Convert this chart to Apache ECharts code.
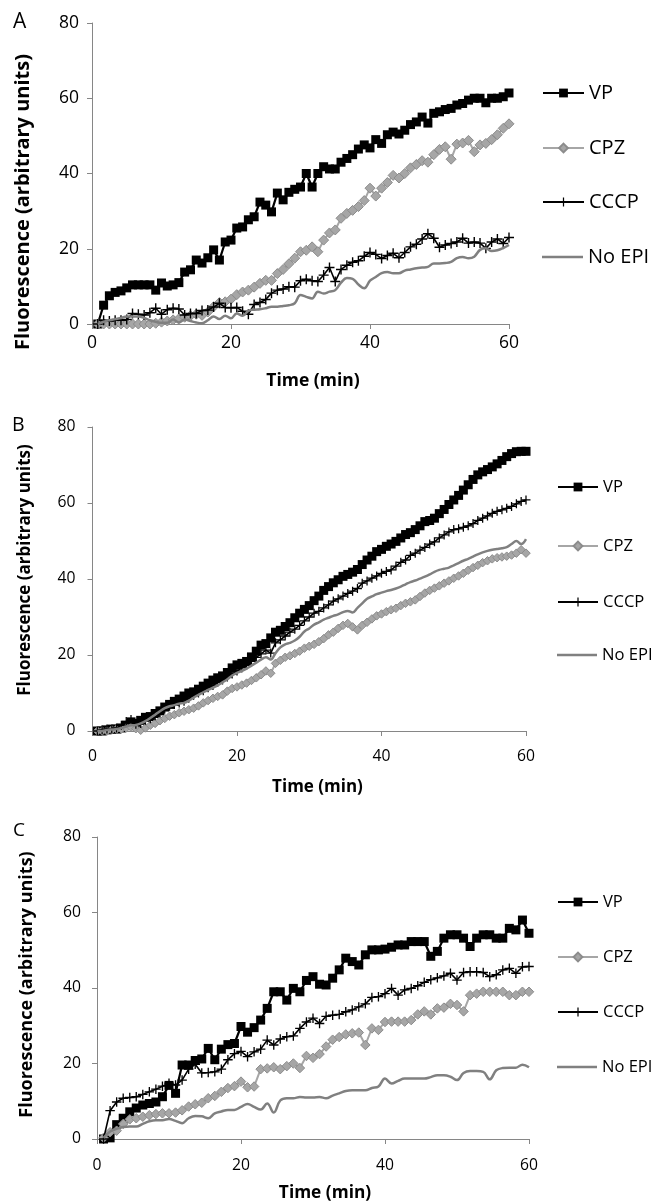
<!DOCTYPE html>
<html><head><meta charset="utf-8">
<script src="https://cdn.jsdelivr.net/npm/echarts@6/dist/echarts.min.js"></script>
<style>html,body{margin:0;padding:0;background:#fff}#c{width:655px;height:1203px}</style>
</head><body><div id="c"></div>
<script>
const seriesNames = ['VP', 'CPZ', 'CCCP', 'No EPI'];
const panelLetters = ['A', 'B', 'C'];
const yTitle = 'Fluorescence (arbitrary units)';
const xTitle = 'Time (min)';
const xRange = [0, 60, 20];
const yRange = [0, 80, 20];

// ---------- Panel A ----------
const timeA = [0.83,1.67,2.5,3.33,4.17,5,5.83,6.67,7.5,8.33,9.17,10,
10.83,11.67,12.5,13.33,14.17,15,15.83,16.67,17.5,18.33,19.17,20,
20.83,21.67,22.5,23.33,24.17,25,25.83,26.67,27.5,28.33,29.17,30,
30.83,31.67,32.5,33.33,34.17,35,35.83,36.67,37.5,38.33,39.17,40,
40.83,41.67,42.5,43.33,44.17,45,45.83,46.67,47.5,48.33,49.17,50,
50.83,51.67,52.5,53.33,54.17,55,55.83,56.67,57.5,58.33,59.17,60];
const vpA = [0,5,7.5,8.4,8.8,9.6,10.4,10.4,10.4,10.4,9,10.9,
10.1,10.4,11,13.8,14.4,17,16.2,17.6,19.7,17,21.8,22.3,
25.5,25.8,27.7,28.5,32.4,31.6,29.8,34.8,33,35,35.8,36.4,
40,36.4,40,41.8,41.2,41.2,43,44,45,46.5,47.6,46.8,
49,48,50.3,51,50.5,51.5,53,53.7,55,53.4,56,56.4,
57,57.3,58.2,58.6,59.5,60,60,58.8,60,60,60.4,61.4];
const cpzA = [0,0,0,0,0,0,0,0,0,0,0.2,0.5,
0.8,1.1,1.4,1.8,2.2,2.6,2.3,3.2,4.6,5.7,5.9,6.6,
7.8,8.5,9,9.8,10.8,11.6,11.6,13.4,14.5,16,17.5,19.2,
19.6,20.5,19.2,22.3,24.2,25,28.1,29.4,30.2,31.2,32.8,36.1,
34,36.1,37.6,39.5,38.8,40,41.5,42.4,43.4,43,45,46.4,
47.1,43.8,47.8,48.1,48.8,45.8,47.6,48,49,50.3,52,53.2];
const cccpA = [0,1,0.8,1,1,1.2,2.8,2.6,2.4,3,4.2,2.6,
3.8,4.2,4,2.4,2.8,2.8,3.6,3.7,4.5,5.5,4.4,4.3,
4.4,3.4,2.6,5.2,5.7,6.5,8.2,9,9.3,9.9,9.8,11.5,
11.9,11.5,11.3,13,15,11.3,14.5,15.6,16.4,16.8,18,19,
18.5,17.4,18.2,18.8,17.6,19,20.5,21.2,22.6,24,22.8,20.4,
21,21.4,21.8,22.8,21.5,21.8,21.5,20.1,21.8,22.6,21.4,23];
const noEpiA = [0,0.6,1,1.3,1.6,2,2,2,1.6,1,0.6,0.3,
0.3,1.2,0.4,1.2,0.8,0.4,0.2,1,2,1.3,2.2,1.5,
2.8,2.2,3.5,3.8,3.9,4.2,4.6,4.6,4.8,5,5.5,7.7,
7.2,6.8,8.6,8.1,8.6,9,11,12.2,12,10.5,9.5,11.5,
12.5,13.5,13.8,13.5,13.5,14.2,14.5,14.8,15,15.2,16.1,16.1,
16.2,16.5,17.5,17.8,17.5,17.9,19.7,20.1,19.4,19.6,20.2,21];

// ---------- Panel B ----------
const timeB = [0.67,1.33,2,2.67,3.33,4,4.67,5.33,6,6.67,7.33,8,8.67,9.33,10,
10.67,11.33,12,12.67,13.33,14,14.67,15.33,16,16.67,17.33,18,18.67,19.33,20,
20.67,21.33,22,22.67,23.33,24,24.67,25.33,26,26.67,27.33,28,28.67,29.33,30,
30.67,31.33,32,32.67,33.33,34,34.67,35.33,36,36.67,37.33,38,38.67,39.33,40,
40.67,41.33,42,42.67,43.33,44,44.67,45.33,46,46.67,47.33,48,48.67,49.33,50,
50.67,51.33,52,52.67,53.33,54,54.67,55.33,56,56.67,57.33,58,58.67,59.33,60];
const vpB = [0,0,0.3,0.5,0.5,0.8,1.5,2.4,2,2.8,3.6,3.8,
4.6,5.3,6.3,7,7.8,8.4,9.2,10,10.3,11,11.8,12.6,
13.4,14,14.5,15.4,16.6,17.4,17.8,18.3,19.5,21,22.6,23,
24.5,26,26.5,27.5,28.5,29.8,31,32,33,34.3,35.5,37,
38,39,39.8,40.7,41.2,41.8,42.5,43.8,45,46,47.2,47.8,
48.6,49.2,49.9,50.8,51.7,52.2,53,54,55.1,55.4,56,57.2,
58.3,59.6,60.8,62,63.4,64.8,66.2,67.4,68.2,68.8,69.5,70.3,
71.2,72.2,73,73.5,73.6,73.6];
const cpzB = [0,0,0,0.3,0.5,0.5,0.8,1,0.6,0.2,0.8,1.5,
2,2.7,3.3,3.9,4.3,4.8,5.2,5.6,6,6.6,7.4,8,
8.6,9.1,9.5,10.5,11.2,11.6,12.1,12.6,13.3,14,14.8,15.8,
15.2,17.8,18.6,19.4,19.8,20.4,21,21.8,22.3,22.8,23.5,24.3,
25.3,26,27,27.8,28.3,27.4,26.6,27.8,28.6,29.5,30.3,30.8,
31.4,31.9,32.3,33,33.6,34,34.5,35.4,36.3,37,37.6,38.2,
38.9,39.5,40.2,40.8,41.5,42.3,43,43.6,44.3,44.8,45.3,45.6,
45.8,46,46.3,46.8,47.7,46.8];
const cccpB = [0,0.3,0.5,0.5,0.8,1.5,2.5,3,1.8,2,2.8,3.2,
4,4.8,5.8,6.5,7,7.4,7.8,8.6,9.4,10,10.6,11.4,
12,12.8,13.4,14.2,15,15.8,16.6,17.4,18.3,19.4,20.3,21.3,
20.5,23.2,24,25,26,26.8,27.8,29,30,31,31.5,32.4,
33.2,34.2,34.8,35.5,36.2,36.8,37.5,38.9,39.5,40.2,40.8,41.5,
42,42.4,43.4,44.4,45,46.2,46.8,47.6,48.3,49.2,49.8,50.8,
51.6,52.4,53,53.2,53.6,54,54.6,55.4,56,56.6,57.3,57.8,
58.2,58.6,59.1,59.8,60.4,60.8];
const noEpiB = [0,0,0.3,0.4,0.5,0.8,1.2,1.5,1.6,2,2.6,3.4,
4.3,5.2,6,6.5,6.8,7.2,7.4,8,8.8,9.5,10.2,10.8,
11.4,12,12.8,13.6,14.6,15.3,15.8,16.4,17.2,18,18.8,19.4,
18.8,20.5,22,22.8,23.2,23.8,24.8,26.2,27,28,28.6,29.3,
29.8,30.3,30.7,31.3,31.6,31.2,32.4,33.6,34.8,35.4,36,36.4,
36.8,37.1,37.5,38,38.6,39.2,39.6,40.1,40.6,41.2,41.9,42.4,
42.7,43,43.6,44.2,44.8,45.3,45.9,46.5,47,47.4,47.7,47.9,
48.1,48.4,49.2,50,49.2,50.5];

// ---------- Panel C ----------
const timeC = [0.91,1.82,2.73,3.64,4.55,5.45,6.36,7.27,8.18,9.09,10,
10.91,11.82,12.73,13.64,14.55,15.45,16.36,17.27,18.18,19.09,20,
20.91,21.82,22.73,23.64,24.55,25.45,26.36,27.27,28.18,29.09,30,
30.91,31.82,32.73,33.64,34.55,35.45,36.36,37.27,38.18,39.09,40,
40.91,41.82,42.73,43.64,44.55,45.45,46.36,47.27,48.18,49.09,50,
50.91,51.82,52.73,53.64,54.55,55.45,56.36,57.27,58.18,59.09,60];
const vpC = [0,0.3,3.8,5.5,7.2,8.2,9,9.4,9.8,11.2,14.2,
12.1,19.6,19.6,20.8,21.2,24,21,23.8,25,25.3,29.8,
28.3,29.5,31.5,34.6,39,39,36.8,39.9,39,42,43,
41,40.8,42.6,44.8,47.9,47,46.1,48.8,50.1,50.1,50.3,
50.8,51.4,51.4,52.3,52.3,52.3,48.4,49.7,53.2,54.1,54.1,
53.2,51,53.2,54.1,54.1,53.2,53.2,55.8,55.4,58,54.5];
const cpzC = [0.3,1.8,2.2,4,5.2,5.5,5.9,6.3,6.6,6.8,6.8,
7,7.6,8.6,9.2,9.6,10.8,11.4,12.5,13.5,14,15.2,
13.7,13.9,18.5,18.7,19,18.5,19.3,20,18.8,22,21.5,
22.5,24.5,26.3,27,27.7,28,28.2,24.9,29.3,28.9,31,
31.1,31.1,31.1,31.5,33,33.8,33,34.6,34.8,35.8,35.5,
33.8,38.1,38.5,39,39,39,39,38.1,38.1,39,39];
const cccpC = [0,7.5,9.8,10.8,11,11.2,11.8,12.5,13.2,14,14.8,
14.3,15.6,18.5,19.8,17.5,17.6,17.8,18.5,21,22.6,23.2,
21.8,23.1,23.8,26.2,24.9,26.5,27.1,27.3,29.3,31,32,
30.6,32.5,32.8,33,33.7,34.2,35,35.8,37.5,37.7,38.5,
39.9,38.1,39.5,39.9,40.6,41.5,42.2,42.7,43.2,43.9,42.1,
44.1,44.3,44.3,44.1,43,43.5,44.8,45.2,43.9,45.6,45.7];
const noEpiC = [0.3,2,2.7,3.2,3.3,3.3,4,4.7,5,5,5.3,
4.8,4.2,5.5,6.1,6,5.5,6.8,7.3,7.7,7.7,8.5,
9.3,8.5,7.8,9.4,7,10.2,10.8,10.8,11.1,11,11,
11.1,10.8,11.5,12.1,12.7,12.9,12.9,12.9,13.5,13.9,16,
14.7,15.4,16,16,16,16,16.4,16.9,16.9,16.5,15.6,
17.5,18,18,17.8,15.8,18.2,18.8,18.9,18.9,19.7,19];

// ---------- layout & style ----------
const FONT = '"Open Sans", sans-serif';
const PLUS = 'path://M4.3,0H5.7V4.3H10V5.7H5.7V10H4.3V5.7H0V4.3H4.3Z';
const AXIS_COLOR = '#868686';

const panels = [
  { times: timeA, vals: [vpA, cpzA, cccpA, noEpiA],
    grid: { left: 92, top: 23, width: 417, height: 301 },
    tickFont: 17.5, yMargin: 13, xMargin: 10, sym: [9, 10, 10],
    legend: { left: 542, ys: [93, 148, 202, 257], w: 41, h: 11, font: 20 },
    letter: { x: 13, y: 22, size: 21 },
    yt: { x: 23, y: 202, size: 20 }, xt: { x: 313, y: 381, size: 17.5 } },
  { times: timeB, vals: [vpB, cpzB, cccpB, noEpiB],
    grid: { left: 92.5, top: 427, width: 433.5, height: 304 },
    tickFont: 15.7, yMargin: 17, xMargin: 18, sym: [9, 8.5, 9],
    legend: { left: 557, ys: [487, 546, 602, 655], w: 40, h: 11, font: 16.6 },
    letter: { x: 12, y: 425, size: 19.5 },
    yt: { x: 25.5, y: 570, size: 17 }, xt: { x: 317.5, y: 787, size: 17 } },
  { times: timeC, vals: [vpC, cpzC, cccpC, noEpiC],
    grid: { left: 97, top: 837, width: 432, height: 302 },
    tickFont: 15.7, yMargin: 16, xMargin: 19, sym: [9, 9.5, 9.5],
    legend: { left: 557, ys: [902, 957, 1012, 1067], w: 40, h: 11, font: 16.5 },
    letter: { x: 13, y: 831, size: 19 },
    yt: { x: 26.5, y: 984.5, size: 18 }, xt: { x: 325, y: 1193, size: 17.3 } }
];

function styleFor(k, sym) {
  if (k === 0) return { symbol: 'rect', symbolSize: sym[0], itemStyle: { color: '#000' }, lineStyle: { color: '#000', width: 2.2 } };
  if (k === 1) return { symbol: 'diamond', symbolSize: sym[1], itemStyle: { color: '#a6a6a6', borderColor: '#8c8c8c', borderWidth: 1 }, lineStyle: { color: '#a6a6a6', width: 2 } };
  if (k === 2) return { symbol: PLUS, symbolSize: sym[2], itemStyle: { color: '#000' }, lineStyle: { color: '#000', width: 1.6 } };
  return { symbol: 'none', smooth: 0.4, itemStyle: { color: '#808080' }, lineStyle: { color: '#808080', width: 2.5 } };
}

const grids = [], xAxes = [], yAxes = [], series = [], legends = [], graphics = [];
panels.forEach((p, pi) => {
  grids.push(Object.assign({ containLabel: false }, p.grid));
  const axisCommon = {
    axisLine: { show: true, lineStyle: { color: AXIS_COLOR, width: 1 } },
    axisTick: { show: true, inside: false, length: 5, lineStyle: { color: AXIS_COLOR } },
    splitLine: { show: false }
  };
  xAxes.push(Object.assign({ type: 'value', gridIndex: pi, min: xRange[0], max: xRange[1], interval: xRange[2],
    axisLabel: { fontFamily: FONT, fontSize: p.tickFont, color: '#000', margin: p.xMargin } }, axisCommon));
  yAxes.push(Object.assign({ type: 'value', gridIndex: pi, min: yRange[0], max: yRange[1], interval: yRange[2],
    axisLabel: { fontFamily: FONT, fontSize: p.tickFont, color: '#000', margin: p.yMargin } }, axisCommon));
  p.vals.forEach((v, k) => {
    series.push(Object.assign({
      name: seriesNames[k], type: 'line', xAxisIndex: pi, yAxisIndex: pi,
      data: p.times.map((t, i) => [t, v[i]]), clip: false, z: 2 + k,
      emphasis: { disabled: true }
    }, styleFor(k, p.sym)));
  });
  seriesNames.forEach((n, k) => {
    const isPlain = k === 3;
    legends.push({
      data: [isPlain ? { name: n, icon: 'rect' } : n],
      left: p.legend.left, top: p.legend.ys[k] - 10, padding: 0, itemGap: 0,
      itemWidth: p.legend.w, itemHeight: isPlain ? 2.5 : p.legend.h, selectedMode: false,
      textStyle: { fontFamily: FONT, fontSize: p.legend.font, color: '#000', lineHeight: 20 }
    });
  });
  graphics.push({ type: 'text', x: p.letter.x, y: p.letter.y,
    style: { text: panelLetters[pi], fill: '#000', font: p.letter.size + 'px ' + FONT, textAlign: 'left', textVerticalAlign: 'middle' } });
  graphics.push({ type: 'text', x: p.yt.x, y: p.yt.y, rotation: Math.PI / 2,
    style: { text: yTitle, fill: '#000', font: 'bold ' + p.yt.size + 'px ' + FONT, textAlign: 'center', textVerticalAlign: 'middle' } });
  graphics.push({ type: 'text', x: p.xt.x, y: p.xt.y,
    style: { text: xTitle, fill: '#000', font: 'bold ' + p.xt.size + 'px ' + FONT, textAlign: 'center', textVerticalAlign: 'middle' } });
});

const chart = echarts.init(document.getElementById('c'), null, { renderer: 'canvas' });
chart.setOption({
  animation: false,
  backgroundColor: '#fff',
  grid: grids, xAxis: xAxes, yAxis: yAxes, series: series, legend: legends, graphic: graphics
});
</script></body></html>
